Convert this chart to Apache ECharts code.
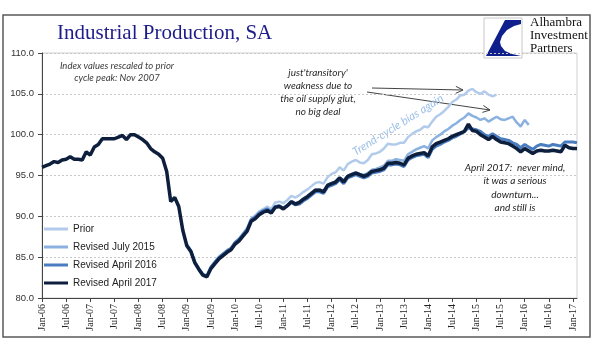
<!DOCTYPE html>
<html>
<head>
<meta charset="utf-8">
<script src="https://cdn.jsdelivr.net/npm/echarts@6/dist/echarts.min.js"></script>
<style>
  html, body { margin: 0; padding: 0; background: #fff; }
  #chart { width: 600px; height: 351px; }
</style>
</head>
<body>
<div id="chart"></div>
<script>
// monthly index, Jan-06 .. Feb-17
const monthNames = ['Jan','Feb','Mar','Apr','May','Jun','Jul','Aug','Sep','Oct','Nov','Dec']
const firstYear = 2006
const monthCount = 134

const yTicks = [80, 85, 90, 95, 100, 105, 110]

// Revised April 2017 (full history)
const revApr2017 = [
  96.0, 96.2, 96.4, 96.7, 96.6, 96.9, 97.0, 97.3, 97.0, 97.0, 96.9, 97.9,
  97.5, 98.5, 98.8, 99.5, 99.5, 99.5, 99.5, 99.7, 99.9, 99.4, 100.0, 100.0,
  99.7, 99.4, 99.0, 98.3, 97.9, 97.6, 97.1, 95.5, 91.8, 92.3, 91.2, 88.3,
  86.4, 85.7, 84.3, 83.5, 82.8, 82.6, 83.6, 84.2, 84.8, 85.2, 85.6, 85.9,
  86.6, 87.0, 87.6, 88.2, 89.4, 89.7, 90.2, 90.5, 90.7, 90.4, 91.1, 91.2,
  90.9, 91.3, 91.8, 91.5, 91.7, 92.1, 92.4, 92.8, 93.2, 93.2, 93.0, 93.8,
  94.0, 94.2, 94.7, 94.2, 94.9, 95.1, 95.3, 95.1, 94.9, 95.1, 95.5, 95.6,
  95.7, 95.9, 96.5, 96.5, 96.6, 96.5, 96.3, 97.1, 97.4, 97.6, 97.7, 97.8,
  97.4, 98.5, 98.9, 99.1, 99.3, 99.5, 99.8, 100.0, 100.2, 100.4, 101.3, 100.5,
  100.4, 100.0, 99.7, 99.4, 99.8, 99.4, 99.1, 99.0, 98.9, 98.6, 98.3, 97.9,
  98.3, 98.0, 97.7, 98.0, 98.1, 98.0, 98.0, 98.1, 98.0, 97.9, 98.7, 98.4,
  98.3, 98.3
]

// Revised April 2016, from Jan-09
const revApr2016Start = 36
const revApr2016 = [
  86.5, 85.8, 84.4, 83.6, 82.9, 82.7, 83.8, 84.4, 85.0, 85.4, 85.8, 86.1,
  86.8, 87.2, 87.8, 88.4, 89.6, 89.9, 90.4, 90.7, 90.9, 90.6, 91.2, 91.3,
  91.0, 91.3, 91.7, 91.4, 91.5, 91.9, 92.2, 92.6, 93.0, 93.0, 92.8, 93.6,
  93.8, 94.0, 94.5, 94.0, 94.7, 94.9, 95.1, 94.9, 94.7, 94.9, 95.3, 95.4,
  95.5, 95.7, 96.3, 96.3, 96.4, 96.3, 96.1, 96.9, 97.2, 97.4, 97.5, 97.6,
  97.2, 98.2, 98.6, 98.8, 99.1, 99.3, 99.6, 99.8, 100.1, 100.4, 100.8, 100.7,
  100.6, 100.4, 100.0, 99.8, 100.1, 99.8, 99.5, 99.4, 99.3, 99.0, 98.8, 98.4,
  98.8, 98.5, 98.2, 98.6, 98.8, 98.7, 98.6, 98.8, 98.7, 98.6, 99.1, 99.1,
  99.1, 99.0
]

// Revised July 2015, from Jan-10
const revJul2015Start = 48
const revJul2015 = [
  86.7, 87.1, 87.7, 88.3, 89.5, 89.8, 90.3, 90.6, 90.8, 90.5, 91.2, 91.3,
  91.0, 91.4, 91.9, 91.6, 91.8, 92.2, 92.5, 92.9, 93.3, 93.3, 93.1, 93.9,
  94.1, 94.3, 94.8, 94.4, 95.0, 95.2, 95.4, 95.2, 95.1, 95.3, 95.7, 95.8,
  96.0, 96.2, 96.8, 96.8, 97.0, 96.9, 96.8, 97.6, 97.9, 98.2, 98.4, 98.6,
  98.3, 99.3, 99.7, 100.0, 100.4, 100.7, 101.1, 101.4, 101.8, 102.1, 102.6, 102.3,
  102.1, 101.8, 102.0, 101.6, 101.9, 102.2, 101.9, 101.8, 102.0, 102.2, 101.5, 101.0,
  101.8, 101.2
]

// Prior, from Jan-10
const priorStart = 48
const prior = [
  86.8, 87.3, 87.9, 88.6, 89.7, 90.1, 90.6, 90.9, 91.2, 90.9, 91.7, 91.8,
  91.6, 92.0, 92.5, 92.3, 92.6, 93.0, 93.3, 93.7, 94.1, 94.2, 94.0, 94.8,
  95.2, 95.4, 96.0, 95.6, 96.4, 96.7, 96.9, 96.6, 96.5, 96.9, 97.6, 97.7,
  97.9, 98.3, 98.9, 98.8, 98.8, 99.0, 99.0, 99.7, 100.1, 100.4, 100.6, 101.0,
  100.9, 101.6, 102.2, 102.5, 102.9, 103.4, 104.0, 104.3, 104.8, 104.9, 105.4, 105.6,
  105.2, 105.0, 105.3, 104.9, 104.7, 104.9
]

const categories = []
for (let i = 0; i < monthCount; i++) {
    const yr = firstYear + Math.floor(i / 12)
    categories.push(monthNames[i % 12] + '-' + String(yr).slice(2))
}

const pad = (start, arr) => new Array(start).fill(null).concat(arr)

// small open arrow head drawn with a polyline
function arrow(x1, y1, x2, y2) {
    const a = Math.atan2(y2 - y1, x2 - x1)
    const len = 8, spread = 0.45
    const p1 = [x2 - len * Math.cos(a - spread), y2 - len * Math.sin(a - spread)]
    const p2 = [x2 - len * Math.cos(a + spread), y2 - len * Math.sin(a + spread)]
    return [
        { type: 'line', shape: { x1, y1, x2, y2 }, style: { stroke: '#444', lineWidth: 1 } },
        { type: 'polyline', shape: { points: [p1, [x2, y2], p2] }, style: { stroke: '#444', lineWidth: 1, fill: null } }
    ]
}

const noteFont = 'Lato, "Open Sans", sans-serif'

const chart = echarts.init(document.getElementById('chart'))
chart.setOption({
    animation: false,
    backgroundColor: '#fff',
    grid: {
        left: 42,
        right: 23,
        top: 53,
        bottom: 53,
        show: true,
        borderColor: '#cfcfcf',
        borderWidth: 1
    },
    legend: {
        orient: 'vertical',
        left: 44,
        top: 224,
        padding: 0,
        icon: 'rect',
        itemWidth: 24,
        itemHeight: 3,
        itemGap: 8,
        textStyle: { fontFamily: '"Liberation Sans", Arial', fontSize: 10, lineHeight: 10, color: '#222' },
        data: ['Prior', 'Revised July 2015', 'Revised April 2016', 'Revised April 2017']
    },
    xAxis: {
        type: 'category',
        boundaryGap: false,
        data: categories,
        axisLine: { lineStyle: { color: '#444', width: 1 } },
        axisTick: {
            alignWithLabel: true,
            length: 4,
            interval: (i) => i % 6 === 0,
            lineStyle: { color: '#444' }
        },
        axisLabel: {
            interval: (i) => i % 6 === 0,
            rotate: 90,
            margin: 6,
            fontFamily: '"Liberation Serif", "Times New Roman", serif',
            fontSize: 10,
            color: '#222'
        },
        splitLine: { show: false }
    },
    yAxis: {
        type: 'value',
        min: yTicks[0],
        max: yTicks[yTicks.length - 1],
        interval: 5,
        axisLine: { show: true, lineStyle: { color: '#444', width: 1 } },
        axisTick: { show: true, length: 4, lineStyle: { color: '#444' } },
        axisLabel: {
            formatter: (v) => v.toFixed(1),
            margin: 8,
            fontFamily: '"Liberation Sans", Arial',
            fontSize: 9.5,
            color: '#333'
        },
        splitLine: { show: true, lineStyle: { color: '#c8c8c8', type: [2, 2], width: 1 } }
    },
    series: [
        {
            name: 'Prior',
            type: 'line',
            symbol: 'none',
            data: pad(priorStart, prior),
            lineStyle: { color: '#b2cbea', width: 2.5 },
            itemStyle: { color: '#b2cbea' }
        },
        {
            name: 'Revised July 2015',
            type: 'line',
            symbol: 'none',
            data: pad(revJul2015Start, revJul2015),
            lineStyle: { color: '#8ab1e0', width: 2.5 },
            itemStyle: { color: '#8ab1e0' }
        },
        {
            name: 'Revised April 2016',
            type: 'line',
            symbol: 'none',
            data: pad(revApr2016Start, revApr2016),
            lineStyle: { color: '#4a7cc0', width: 3 },
            itemStyle: { color: '#4a7cc0' }
        },
        {
            name: 'Revised April 2017',
            type: 'line',
            symbol: 'none',
            data: revApr2017,
            lineStyle: { color: '#0e1f3d', width: 3.5 },
            itemStyle: { color: '#0e1f3d' }
        }
    ],
    graphic: [
        // outer frame
        {
            type: 'rect',
            shape: { x: 3, y: 15, width: 587, height: 322 },
            style: { fill: null, stroke: '#5a5a5a', lineWidth: 1.5 },
            silent: true
        },
        {
            type: 'text',
            x: 57,
            y: 23,
            style: {
                text: 'Industrial Production, SA',
                font: '21px "Liberation Serif", "Times New Roman", serif',
                fill: '#1c1c8a'
            }
        },
        // logo box
        {
            type: 'rect',
            shape: { x: 484, y: 18, width: 38, height: 40 },
            style: { fill: '#fff', stroke: '#c8c8c8', lineWidth: 1 }
        },
        {
            type: 'polygon',
            shape: {
                points: [[521, 20], [505, 20], [486, 56], [521, 56], [512, 54], [505, 51], [501, 46],
                    [500, 42], [502, 36], [507, 30], [514, 26], [521, 24]]
            },
            style: { fill: '#0f1f8c' }
        },
        {
            type: 'text',
            x: 530,
            y: 16,
            style: {
                text: 'Alhambra\nInvestment\nPartners',
                font: '13px "Liberation Serif", "Times New Roman", serif',
                lineHeight: 13,
                fill: '#111'
            }
        },
        {
            type: 'text',
            x: 117,
            y: 60,
            style: {
                text: 'Index values rescaled to prior\ncycle peak: Nov 2007',
                font: 'italic 9.5px ' + noteFont,
                lineHeight: 12,
                align: 'center',
                fill: '#3a3a3a'
            }
        },
        {
            type: 'text',
            x: 318,
            y: 66,
            style: {
                text: "just'transitory'\nweakness due to\nthe oil supply glut,\nno big deal",
                font: 'italic 10px ' + noteFont,
                lineHeight: 13,
                align: 'center',
                fill: '#2a2a2a'
            }
        },
        ...arrow(372, 88, 463, 90),
        ...arrow(367, 92, 490, 110),
        {
            type: 'text',
            x: 398,
            y: 125,
            rotation: 32 * Math.PI / 180,
            style: {
                text: 'Trend-cycle bias again',
                font: 'italic 11.5px ' + noteFont,
                align: 'center',
                verticalAlign: 'middle',
                fill: '#9fc0e8'
            }
        },
        {
            type: 'text',
            x: 515,
            y: 161,
            style: {
                text: 'April 2017:  never mind,\nit was a serious\ndownturn...\nand still is',
                font: 'italic 10px ' + noteFont,
                lineHeight: 13.5,
                align: 'center',
                fill: '#1e1e1e'
            }
        }
    ]
})
</script>
</body>
</html>
